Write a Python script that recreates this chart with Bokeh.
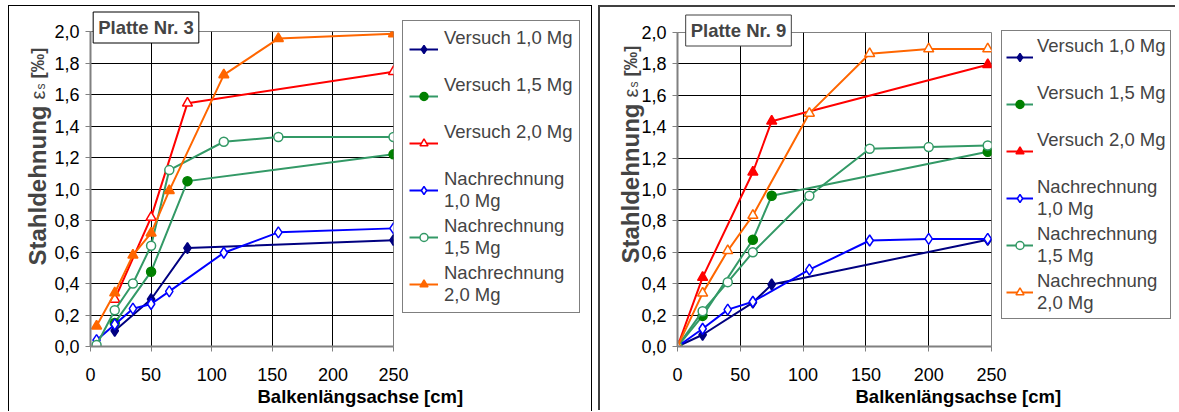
import math
from bokeh.plotting import figure
from bokeh.models import (Range1d, FixedTicker, CustomJSTickFormatter, Legend,
                          LegendItem, Label, Title)
from bokeh.layouts import row
from bokeh.embed import file_html
from bokeh.resources import INLINE

FONT = "Liberation Sans"

# ---------------- data ----------------
x_tick_values = [0, 50, 100, 150, 200, 250]
y_tick_values = [0.0, 0.2, 0.4, 0.6, 0.8, 1.0, 1.2, 1.4, 1.6, 1.8, 2.0]

series_labels = ["Versuch 1,0 Mg", "Versuch 1,5 Mg", "Versuch 2,0 Mg",
                 "Nachrechnung\n1,0 Mg", "Nachrechnung\n1,5 Mg", "Nachrechnung\n2,0 Mg"]

x_axis_title = "Balkenlängsachse [cm]"
y_axis_title_main = "Stahldehnung"
y_axis_title_symbol = "ε"
y_axis_title_sub = "s"
y_axis_title_unit = "[‰]"

# Platte Nr. 3
p3_title = "Platte Nr. 3"
p3_versuch_x = [20, 50, 80, 250]
p3_versuch_10 = [0.10, 0.30, 0.625, 0.675]
p3_versuch_15 = [0.15, 0.475, 1.05, 1.22]
p3_versuch_20 = [0.30, 0.82, 1.545, 1.745]
p3_rechnung_x = [5, 20, 35, 50, 65, 110, 155, 250]
p3_rechnung_10 = [0.04, 0.14, 0.24, 0.27, 0.35, 0.595, 0.725, 0.75]
p3_rechnung_15 = [0.01, 0.23, 0.40, 0.64, 1.12, 1.30, 1.33, 1.33]
p3_rechnung_20 = [0.13, 0.34, 0.58, 0.72, 0.99, 1.725, 1.955, 1.985]

# Platte Nr. 9
p9_title = "Platte Nr. 9"
p9_versuch_x = [0, 20, 60, 75, 247]
p9_versuch_10 = [0.0, 0.075, 0.28, 0.395, 0.68]
p9_versuch_15 = [0.0, 0.195, 0.68, 0.96, 1.24]
p9_versuch_20 = [0.0, 0.44, 1.11, 1.435, 1.795]
p9_rechnung_x = [0, 20, 40, 60, 105, 153, 200, 247]
p9_rechnung_10 = [0.0, 0.113, 0.235, 0.285, 0.49, 0.675, 0.685, 0.685]
p9_rechnung_15 = [0.0, 0.225, 0.41, 0.60, 0.96, 1.26, 1.27, 1.28]
p9_rechnung_20 = [0.0, 0.34, 0.61, 0.835, 1.485, 1.865, 1.895, 1.895]

NAVY = "#000080"
SEAGREEN = "#339966"
DKGREEN = "#008000"
RED = "#FF0000"
BLUE = "#0000FF"
ORANGE = "#FF6600"

PAGE_W, PAGE_H = 1179, 412
OV_SHIFT = 20  # overlay is lifted by this many pixels


def make_panel(series, cfg):
    p = figure(width=cfg["w"], height=cfg["h"], output_backend="svg",
               toolbar_location=None, x_range=Range1d(0, 250), y_range=Range1d(0, 2.0),
               min_border_left=cfg["bl"], min_border_right=cfg["br"],
               min_border_top=cfg["bt"], min_border_bottom=cfg["bb"],
               background_fill_color="white", border_fill_color="white")
    p.styles = cfg["styles"]
    p.outline_line_color = "#808080"
    p.outline_line_width = 1

    p.xaxis.ticker = FixedTicker(ticks=x_tick_values)
    p.yaxis.ticker = FixedTicker(ticks=y_tick_values)
    p.yaxis.formatter = CustomJSTickFormatter(code="return tick.toFixed(1).replace('.', ',');")
    for ax in p.axis:
        ax.axis_line_color = "#808080"
        ax.axis_line_width = 2
        ax.major_tick_line_color = "#808080"
        ax.major_tick_out = 5
        ax.major_tick_in = 0
        ax.minor_tick_line_color = None
        ax.major_label_text_font = FONT
        ax.major_label_text_font_size = "18px"
        ax.major_label_text_color = "black"
    p.xaxis.major_label_standoff = 16
    p.yaxis.major_label_standoff = 6
    p.grid.grid_line_color = "black"
    p.grid.grid_line_width = 1

    for (xs, ys, label, lc, marker, fc, mlc, size) in series:
        p.line(xs, ys, line_color=lc, line_width=2)
        p.scatter(xs, ys, marker=marker, size=size, fill_color=fc,
                  line_color=mlc, line_width=1.5)

    # x axis title (below the axis, shifted right like the original)
    p.add_layout(Title(text=x_axis_title, align="left", offset=cfg["xoff"], standoff=0,
                       text_font=FONT, text_font_style="bold", text_font_size="18.5px",
                       text_color="black"), "below")
    return p


def decorate(ov, title, series, cfg):
    # legend: sample glyphs of the same series, drawn on a hidden range of the overlay
    items = []
    for (xs, ys, label, lc, marker, fc, mlc, size) in series:
        lr = ov.line(xs, ys, line_color=lc, line_width=2,
                     x_range_name="hide", y_range_name="hide")
        sr = ov.scatter(xs, ys, marker=marker, size=size, fill_color=fc,
                        line_color=mlc, line_width=1.5,
                        x_range_name="hide", y_range_name="hide")
        items.append(LegendItem(label=label + ("\n " if "\n" not in label else ""),
                                renderers=[lr, sr]))
    lx, ly = cfg["leg_loc"]
    leg = Legend(items=items, location=(lx, ly - OV_SHIFT), orientation="vertical",
                 margin=0, padding=cfg["leg_pad"], spacing=3,
                 glyph_width=cfg["gw"], glyph_height=20, label_height=20,
                 label_standoff=cfg["ls"],
                 label_text_font=FONT, label_text_font_size="18.5px",
                 label_text_line_height=1.05,
                 border_line_color="black", border_line_width=1,
                 background_fill_color="white", background_fill_alpha=1.0)
    ov.add_layout(leg, "center")

    # panel title box
    ov.add_layout(Label(x=cfg["tx"], y=cfg["ty"] + OV_SHIFT, x_units="canvas", y_units="canvas",
                        text=title, text_font=FONT, text_font_style="bold",
                        text_font_size="18.5px", text_align="center", text_baseline="middle",
                        padding=5, border_line_color=cfg["tb"], border_line_width=1,
                        background_fill_color="white"))

    # y axis title (rotated, composed of pieces)
    X, B = cfg["ylx"], cfg["ylb"] + OV_SHIFT
    pieces = [
        (y_axis_title_main, 0, 0, "bold", "24px"),
        (y_axis_title_symbol, 0, 166, "normal", "20px"),
        (y_axis_title_sub, 3, 176, "normal", "12px"),
        (y_axis_title_unit, 0, 187, "bold", "18.5px"),
    ]
    for (txt, dx, dy, style, size) in pieces:
        ov.add_layout(Label(x=X + dx, y=B - dy, x_units="canvas", y_units="canvas",
                            angle=math.pi / 2, text=txt, text_font=FONT,
                            text_font_style=style, text_font_size=size,
                            text_align="left", text_baseline="alphabetic"))


s3 = [
    (p3_versuch_x, p3_versuch_10, series_labels[0], NAVY, "diamond", NAVY, NAVY, 11),
    (p3_versuch_x, p3_versuch_15, series_labels[1], SEAGREEN, "circle", DKGREEN, DKGREEN, 9),
    (p3_versuch_x, p3_versuch_20, series_labels[2], RED, "triangle", "white", RED, 10),
    (p3_rechnung_x, p3_rechnung_10, series_labels[3], BLUE, "diamond", "white", BLUE, 11),
    (p3_rechnung_x, p3_rechnung_15, series_labels[4], SEAGREEN, "circle", "white", SEAGREEN, 9),
    (p3_rechnung_x, p3_rechnung_20, series_labels[5], ORANGE, "triangle", ORANGE, ORANGE, 10),
]
s9 = [
    (p9_versuch_x, p9_versuch_10, series_labels[0], NAVY, "diamond", NAVY, NAVY, 11),
    (p9_versuch_x, p9_versuch_15, series_labels[1], SEAGREEN, "circle", DKGREEN, DKGREEN, 9),
    (p9_versuch_x, p9_versuch_20, series_labels[2], RED, "triangle", RED, RED, 10),
    (p9_rechnung_x, p9_rechnung_10, series_labels[3], BLUE, "diamond", "white", BLUE, 11),
    (p9_rechnung_x, p9_rechnung_15, series_labels[4], SEAGREEN, "circle", "white", SEAGREEN, 9),
    (p9_rechnung_x, p9_rechnung_20, series_labels[5], ORANGE, "triangle", "white", ORANGE, 10),
]

cfg3 = dict(w=584, h=406, bl=81, br=200, bt=20, bb=66, xoff=167,
            styles={"margin-left": "8px", "margin-top": "5px",
                    "border-top": "1px solid black", "border-left": "1px solid black",
                    "border-right": "1px solid black"})
cfg9 = dict(w=577, h=405, bl=77, br=186, bt=25, bb=66, xoff=178,
            styles={"margin-top": "5px",
                    "border-top": "2px solid #404040", "border-left": "2px solid #404040"})

p3 = make_panel(s3, cfg3)
p9 = make_panel(s9, cfg9)

# transparent overlay carrying legends and title boxes (page pixel coordinates)
ov = figure(width=PAGE_W, height=PAGE_H, output_backend="svg", toolbar_location=None,
            x_range=Range1d(0, PAGE_W), y_range=Range1d(0, PAGE_H),
            x_axis_type=None, y_axis_type=None,
            min_border_left=0, min_border_right=0, min_border_top=0, min_border_bottom=0)
ov.title.visible = False
ov.extra_x_ranges = {"hide": Range1d(10000, 10001)}
ov.extra_y_ranges = {"hide": Range1d(10000, 10001)}
ov.outline_line_color = None
ov.background_fill_alpha = 0
ov.border_fill_alpha = 0
ov.styles = {"position": "absolute", "left": "0px", "top": f"-{OV_SHIFT}px",
             "z-index": "10", "pointer-events": "none"}

decorate(ov, p3_title, s3, dict(leg_loc=(402, 32), leg_pad=6, gw=29, ls=6,
                                tx=145.5, ty=27, tb="black", ylx=37, ylb=265))
decorate(ov, p9_title, s9, dict(leg_loc=(1001, 26), leg_pad=4, gw=27, ls=4,
                                tx=738, ty=30, tb="#404040", ylx=630, ylb=263))

layout = row(p3, p9, ov, spacing=6)

with open("out.html", "w") as f:
    f.write(file_html(layout, INLINE))
